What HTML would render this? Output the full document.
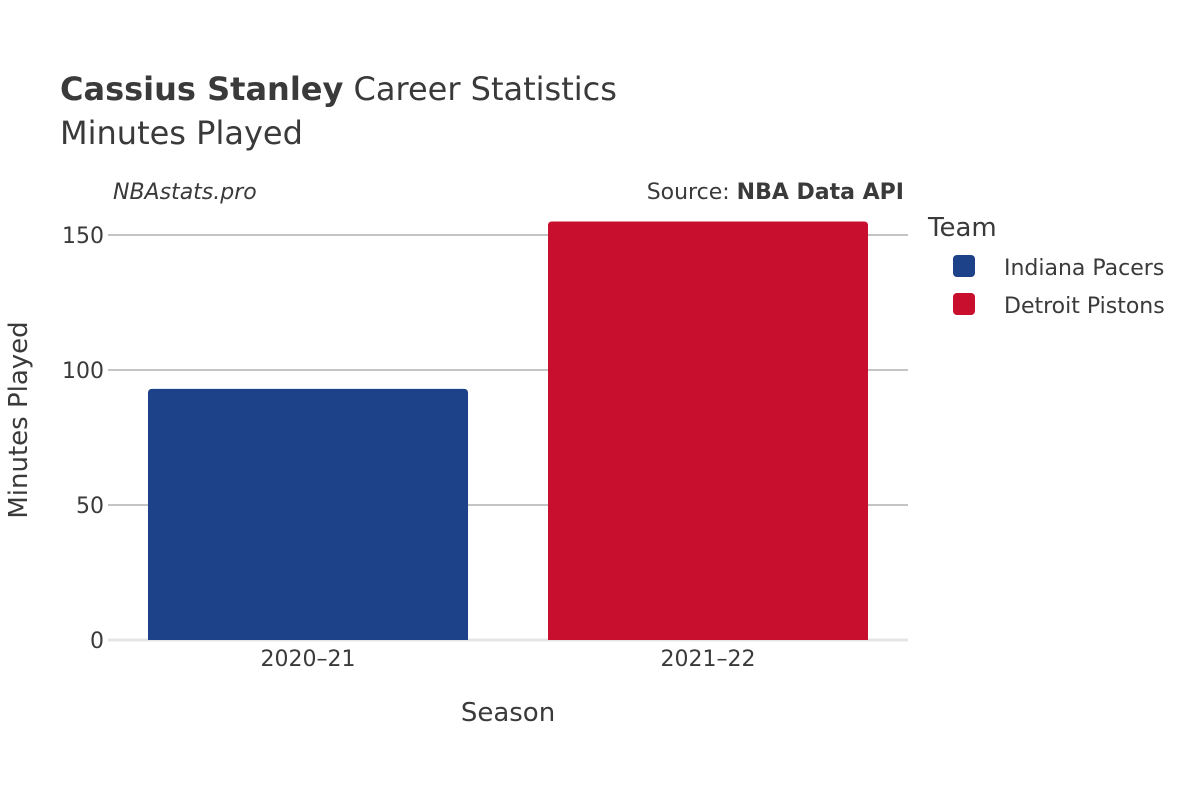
<!DOCTYPE html>
<html><head><meta charset="utf-8"><style>
body{margin:0;background:#fff;}
svg text{font-family:"DejaVu Sans","Liberation Sans",sans-serif;fill:#3a3a3a;}
</style></head><body>
<svg id="chart" width="1200" height="800">
<text x="60" y="100" font-size="32"><tspan font-weight="bold">Cassius Stanley</tspan> Career Statistics</text>
<text x="60" y="144" font-size="32">Minutes Played</text>
<text x="113" y="199" font-size="22" font-style="italic">NBAstats.pro</text>
<text x="904" y="199" font-size="22" text-anchor="end">Source: <tspan font-weight="bold">NBA Data API</tspan></text>
<g id="grid"></g>
<g id="bars"></g>
<g id="xticks"></g>
<text x="508" y="721" font-size="26" text-anchor="middle">Season</text>
<text transform="translate(27,420) rotate(-90)" font-size="26" text-anchor="middle">Minutes Played</text>
<text x="928" y="236" font-size="26">Team</text>
<g><rect x="953" y="255" width="22" height="22" rx="4" fill="#1d428a"/><text x="1004" y="275" font-size="22">Indiana Pacers</text></g>
<g><rect x="953" y="293" width="22" height="22" rx="4" fill="#c8102e"/><text x="1004" y="313" font-size="22">Detroit Pistons</text></g>
</svg>
<script>
const seasons=["2020–21","2021–22"];
const minutes=[93,155];
const teams=["Indiana Pacers","Detroit Pistons"];
const colors=["#1d428a","#c8102e"];
const yTicks=[0,50,100,150];
const NS="http://www.w3.org/2000/svg";
const x0=108,x1=908,y0=640,yTop=235,yMaxV=150;
const y=v=>y0-(v/yMaxV)*(y0-yTop);
const band=(x1-x0)/seasons.length;
const grid=document.getElementById('grid'),bars=document.getElementById('bars'),xt=document.getElementById('xticks');
yTicks.forEach(t=>{
 const l=document.createElementNS(NS,'line');
 
 
 l.setAttribute('x1',x0);l.setAttribute('x2',x1);l.setAttribute('y1',y(t));l.setAttribute('y2',y(t));
 l.setAttribute('stroke',t===0?'#e6e6e6':'#888');l.setAttribute('stroke-width',t===0?3:1);
 grid.appendChild(l);
 const tx=document.createElementNS(NS,'text');
 
 
 tx.setAttribute('x',x0-4);tx.setAttribute('y',y(t)+8);tx.setAttribute('text-anchor','end');tx.setAttribute('font-size','22');
 tx.textContent=t;grid.appendChild(tx);
});
seasons.forEach((s,i)=>{
 const bw=band*0.8,bx=x0+band*i+band*0.1,top=y(minutes[i]);
 const p=document.createElementNS(NS,'path');
 
 
 const r=4;
 p.setAttribute('d',`M${bx},${y0}V${top+r}Q${bx},${top} ${bx+r},${top}H${bx+bw-r}Q${bx+bw},${top} ${bx+bw},${top+r}V${y0}Z`);
 p.setAttribute('fill',colors[i]);
 bars.appendChild(p);
 const tx=document.createElementNS(NS,'text');
 
 
 tx.setAttribute('x',x0+band*(i+0.5));tx.setAttribute('y',666);tx.setAttribute('text-anchor','middle');tx.setAttribute('font-size','22');
 tx.textContent=s;xt.appendChild(tx);
});
</script>
</body></html>
